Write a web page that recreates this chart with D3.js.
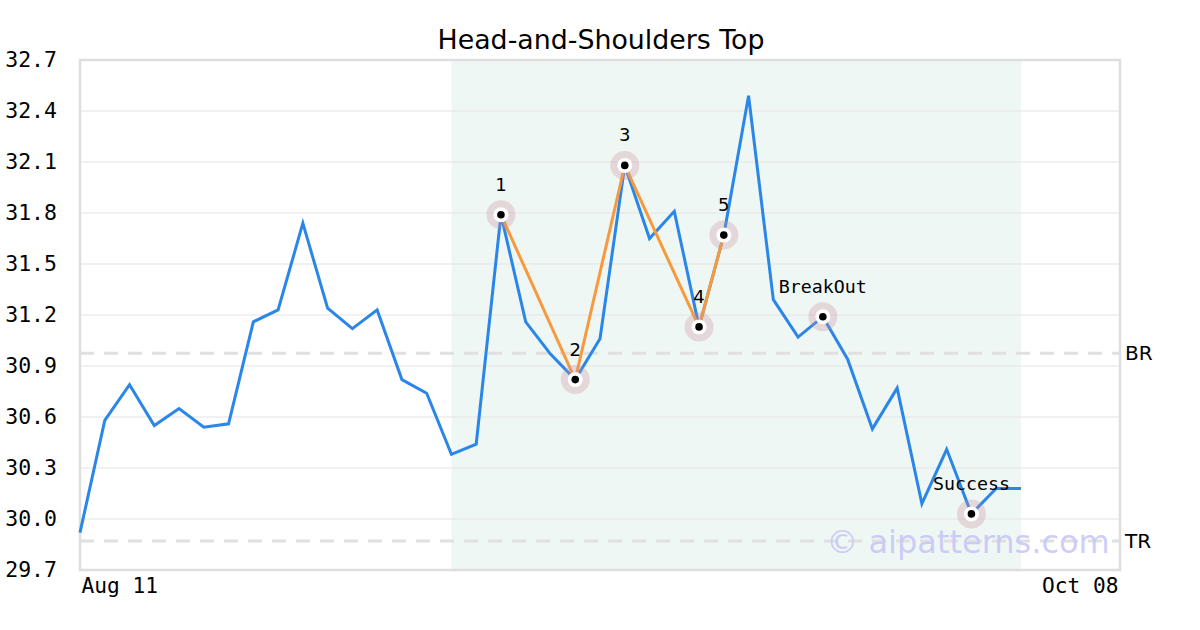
<!DOCTYPE html>
<html><head><meta charset="utf-8">
<script src="https://cdn.jsdelivr.net/npm/d3@7"></script>
<style>body{margin:0;background:#fff;}svg{display:block;}</style>
</head><body>
<svg id="c" width="1200" height="630"></svg>
<script>
// ---- data ----
const prices = [29.92,30.58,30.79,30.55,30.65,30.54,30.56,31.16,31.23,31.74,31.24,31.12,31.23,30.82,30.74,30.38,30.44,31.79,31.16,30.97,30.82,31.06,32.08,31.65,31.81,31.13,31.67,32.49,31.29,31.07,31.19,30.94,30.53,30.77,30.09,30.41,30.03,30.18,30.18];
const patternIdx = [17,20,22,25,26];
const patternLabels = ["1","2","3","4","5"];
const eventIdx = [30,36];
const eventLabels = ["BreakOut","Success"];
const shadeRange = [15,38];
const levelValues = [30.975,29.87];
const levelLabels = ["BR","TR"];
const yTicks = [29.7,30.0,30.3,30.6,30.9,31.2,31.5,31.8,32.1,32.4,32.7];
const xTickLabels = ["Aug 11","Oct 08"];
const xDomain = [0,42];
const title = "Head-and-Shoulders Top";

// ---- layout ----
const L=80,R=1120,T=60,B=570;
const svg=d3.select("#c");
const x=d3.scaleLinear().domain(xDomain).range([L,R]);
const y=d3.scaleLinear().domain([29.7,32.7]).range([B,T]);
const mono="'DejaVu Sans Mono', monospace", sans="'DejaVu Sans', sans-serif";

svg.append("text").attr("x",601).attr("y",49).attr("text-anchor","middle")
  .attr("font-family",sans).attr("font-size",26.8).attr("fill","#000").text(title);

// shade
svg.append("rect").attr("x",x(shadeRange[0])).attr("y",T).attr("width",x(shadeRange[1])-x(shadeRange[0])).attr("height",B-T).attr("fill","#eff7f4");

// grid
svg.append("g").selectAll("line").data(yTicks.slice(1,-1)).join("line")
  .attr("x1",L).attr("x2",R).attr("y1",d=>y(d)).attr("y2",d=>y(d)).attr("stroke","#e3e3e3").attr("stroke-width",1);

// y axis labels
const yAxis=d3.axisLeft(y).tickValues(yTicks).tickFormat(d3.format(".1f")).tickSize(0).tickPadding(23);
const ya=svg.append("g").attr("transform",`translate(${L},0)`).call(yAxis);
ya.select(".domain").remove();
ya.selectAll("text").attr("font-family",mono).attr("font-size",21.5).attr("fill","#000");

// x axis labels
const xAxis=d3.axisBottom(x).tickValues(xDomain).tickFormat((d,i)=>xTickLabels[i]).tickSize(0).tickPadding(8);
const xa=svg.append("g").attr("transform",`translate(0,${B})`).call(xAxis);
xa.select(".domain").remove();
xa.selectAll("text").attr("font-family",mono).attr("font-size",21.2).attr("fill","#000")
  .attr("text-anchor",(d,i)=>i===0?"start":"end").attr("dx",(d,i)=>i===0?1:-2);

// level lines
svg.append("g").selectAll("line").data(levelValues).join("line")
  .attr("x1",L).attr("x2",R).attr("y1",d=>y(d)).attr("y2",d=>y(d))
  .attr("stroke","#e0e0e0").attr("stroke-width",3).attr("stroke-dasharray","14,10");
svg.append("g").selectAll("text").data(levelValues).join("text")
  .attr("x",R+5).attr("y",d=>y(d)+7).attr("font-family",sans).attr("font-size",20).attr("fill","#000")
  .text((d,i)=>levelLabels[i]);

// border
svg.append("rect").attr("x",L).attr("y",T).attr("width",R-L).attr("height",B-T)
  .attr("fill","none").attr("stroke","#dedede").attr("stroke-width",2.5);

// price line
const line=d3.line().x((d,i)=>x(i)).y(d=>y(d));
svg.append("path").datum(prices).attr("d",line).attr("fill","none").attr("stroke","#2a86e8").attr("stroke-width",3).attr("stroke-linejoin","miter");

// pattern line
svg.append("path").datum(patternIdx).attr("d",d3.line().x(i=>x(i)).y(i=>y(prices[i])))
  .attr("fill","none").attr("stroke","#f79a3e").attr("stroke-width",3);

// watermark
svg.append("text").attr("x",968).attr("y",553).attr("text-anchor","middle").attr("font-family",sans)
  .attr("font-size",32).attr("fill","#c5c5f7").attr("fill-opacity",0.85).text("© aipatterns.com");

// markers
const allIdx=patternIdx.concat(eventIdx);
const mg=svg.append("g");
allIdx.forEach(i=>{
  const cx=x(i), cy=y(prices[i]);
  mg.append("circle").attr("cx",cx).attr("cy",cy).attr("r",14.5).attr("fill","#c9909c").attr("fill-opacity",0.3);
  mg.append("circle").attr("cx",cx).attr("cy",cy).attr("r",7.5).attr("fill","#fff");
  mg.append("circle").attr("cx",cx).attr("cy",cy).attr("r",3.8).attr("fill","#000");
});
svg.append("g").selectAll("text").data(patternIdx).join("text")
  .attr("x",i=>x(i)).attr("y",i=>y(prices[i])-24).attr("text-anchor","middle")
  .attr("font-family",sans).attr("font-size",18).attr("fill","#000").text((d,k)=>patternLabels[k]);
svg.append("g").selectAll("text").data(eventIdx).join("text")
  .attr("x",i=>x(i)).attr("y",i=>y(prices[i])-24).attr("text-anchor","middle")
  .attr("font-family",mono).attr("font-size",18.3).attr("fill","#000").text((d,k)=>eventLabels[k]);
</script>
</body></html>
